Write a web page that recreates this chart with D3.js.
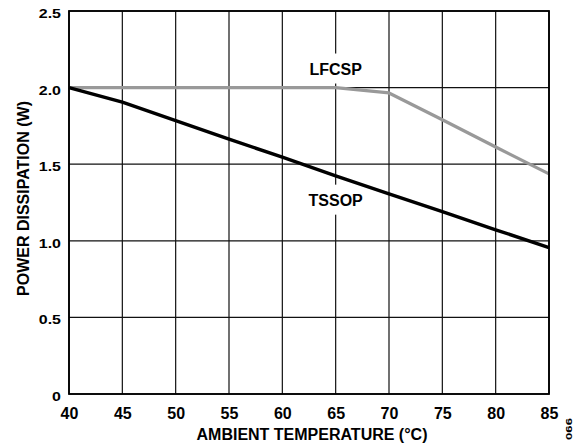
<!DOCTYPE html>
<html>
<head>
<meta charset="utf-8">
<script src="https://cdn.jsdelivr.net/npm/d3@7"></script>
<style>
  html, body { margin: 0; padding: 0; background: #fff; }
  svg { display: block; }
  text { font-family: Arial, "Liberation Sans", sans-serif; font-weight: bold; fill: #000; }
</style>
</head>
<body>
<svg id="chart" width="576" height="446"></svg>
<script>
// Ambient temperature (°C) and power dissipation (W) per package
const temperatures = [40, 45, 50, 55, 60, 65, 70, 75, 80, 85];
const tssopPower   = [2.0, 1.905, 1.785, 1.663, 1.546, 1.424, 1.307, 1.191, 1.072, 0.956];
const lfcspPower   = [2.0, 2.0, 2.0, 2.0, 2.0, 2.0, 1.965, 1.79, 1.612, 1.437];
const xTicks = [40, 45, 50, 55, 60, 65, 70, 75, 80, 85];
const yTicks = [0, 0.5, 1.0, 1.5, 2.0, 2.5];
const yTickLabels = ["0", "0.5", "1.0", "1.5", "2.0", "2.5"];

const W = 576, H = 446;
const margin = { top: 11, right: 27, bottom: 52, left: 69 };
const iw = W - margin.left - margin.right;
const ih = H - margin.top - margin.bottom;

const svg = d3.select("#chart");
const g = svg.append("g").attr("transform", `translate(${margin.left},${margin.top})`);

const x = d3.scaleLinear().domain([40, 85]).range([0, iw]);
const y = d3.scaleLinear().domain([0, 2.5]).range([ih, 0]);

// grid
const grid = g.append("g");
grid.selectAll("line.vg").data(xTicks).join("line")
  .attr("x1", d => x(d)).attr("x2", d => x(d))
  .attr("y1", 0).attr("y2", ih)
  .attr("stroke", "#111").attr("stroke-width", 1.2);
grid.selectAll("line.hg").data(yTicks).join("line")
  .attr("x1", 0).attr("x2", iw)
  .attr("y1", d => y(d)).attr("y2", d => y(d))
  .attr("stroke", "#111").attr("stroke-width", 1.2);

// x axis tick labels
const xAxis = d3.axisBottom(x).tickValues(xTicks).tickSize(0).tickPadding(14).tickFormat(d3.format("d"));
const gx = g.append("g").attr("transform", `translate(0,${ih})`).call(xAxis);
gx.select(".domain").remove();
gx.selectAll("text").attr("font-size", 16).attr("font-family", null).attr("dy", "0.71em");

// y axis tick labels (condensed vertically)
const yAxis = d3.axisLeft(y).tickValues(yTicks).tickSize(0).tickPadding(8)
  .tickFormat((d, i) => yTickLabels[i]);
const gy = g.append("g").call(yAxis);
gy.select(".domain").remove();
gy.selectAll(".tick text")
  .attr("font-size", 16).attr("font-family", null)
  .attr("x", null).attr("dy", null)
  .attr("transform", "translate(-8,6.5) scale(1,0.76)");

// series labels with white backing that interrupts the grid
function seriesLabel(text, t, v) {
  const lg = g.append("g").attr("transform", `translate(${x(t)},${y(v)})`);
  const rect = lg.append("rect").attr("fill", "#fff");
  const tx = lg.append("text").attr("text-anchor", "middle").attr("dy", "0.36em")
    .attr("font-size", 16).text(text);
  const bb = tx.node().getBBox();
  rect.attr("x", bb.x - 3).attr("width", bb.width + 6)
      .attr("y", -16).attr("height", 30);
}
seriesLabel("LFCSP", 65, 2.118);
seriesLabel("TSSOP", 65, 1.262);

// curves
const line = d3.line().x(d => x(d[0])).y(d => y(d[1]));
g.append("path")
  .datum(temperatures.map((t, i) => [t, lfcspPower[i]]))
  .attr("d", line).attr("fill", "none")
  .attr("stroke", "#999").attr("stroke-width", 3.2).attr("stroke-linejoin", "round");
g.append("path")
  .datum(temperatures.map((t, i) => [t, tssopPower[i]]))
  .attr("d", line).attr("fill", "none")
  .attr("stroke", "#000").attr("stroke-width", 3.4).attr("stroke-linejoin", "round");

// frame
g.append("rect").attr("x", 0).attr("y", 0).attr("width", iw).attr("height", ih)
  .attr("fill", "none").attr("stroke", "#000").attr("stroke-width", 1.8);

// axis titles
svg.append("text")
  .attr("x", 312).attr("y", 440)
  .attr("text-anchor", "middle").attr("font-size", 16)
  .text("AMBIENT TEMPERATURE (°C)");
svg.append("text")
  .attr("transform", "translate(28.5,198.5) rotate(-90)")
  .attr("text-anchor", "middle").attr("font-size", 16)
  .text("POWER DISSIPATION (W)");

// figure number
svg.append("text")
  .attr("transform", "translate(572,429) rotate(-90)")
  .attr("text-anchor", "middle").attr("font-size", 9.5).attr("font-weight", "normal")
  .attr("textLength", 22).attr("lengthAdjust", "spacingAndGlyphs")
  .text("066");
</script>
</body>
</html>
